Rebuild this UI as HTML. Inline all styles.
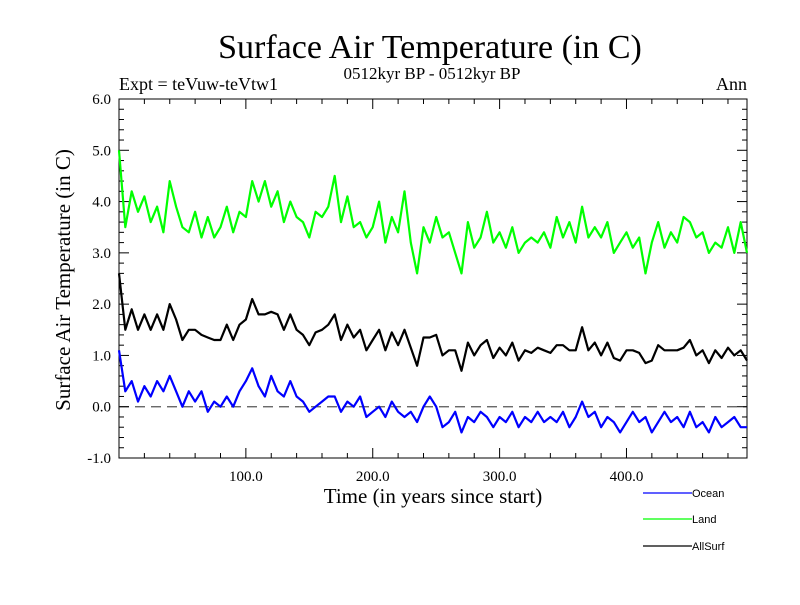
<!DOCTYPE html>
<html><head><meta charset="utf-8"><style>
body{margin:0;background:#fff}
svg text{font-family:"Liberation Serif",serif}
svg #legend text{font-family:"Liberation Sans",sans-serif}
</style></head><body>
<svg id="chart" width="800" height="600" xmlns="http://www.w3.org/2000/svg">
<rect width="800" height="600" fill="#fff"/>
<text x="430" y="58" font-size="34" text-anchor="middle">Surface Air Temperature (in C)</text>
<text x="432" y="79" font-size="17" text-anchor="middle">0512kyr BP - 0512kyr BP</text>
<text x="119" y="90" font-size="18">Expt = teVuw-teVtw1</text>
<text x="747" y="90" font-size="18" text-anchor="end">Ann</text>
<text x="433" y="503" font-size="21" text-anchor="middle">Time (in years since start)</text>
<text transform="translate(70,280) rotate(-90)" font-size="21" text-anchor="middle">Surface Air Temperature (in C)</text>
<g id="axes"></g>
<g id="series"></g>
<g id="legend"></g>
</svg>
<script>
const years=[];for(let i=0;i<100;i++)years.push(i*5);
const land=[5.0,3.5,4.2,3.8,4.1,3.6,3.9,3.4,4.4,3.9,3.5,3.4,3.8,3.3,3.7,3.3,3.5,3.9,3.4,3.8,3.7,4.4,4.0,4.4,3.9,4.2,3.6,4.0,3.7,3.6,3.3,3.8,3.7,3.9,4.5,3.6,4.1,3.5,3.6,3.3,3.5,4.0,3.2,3.7,3.4,4.2,3.2,2.6,3.5,3.2,3.7,3.3,3.4,3.0,2.6,3.6,3.1,3.3,3.8,3.2,3.4,3.1,3.5,3.0,3.2,3.3,3.2,3.4,3.1,3.7,3.3,3.6,3.2,3.9,3.3,3.5,3.3,3.6,3.0,3.2,3.4,3.1,3.3,2.6,3.2,3.6,3.1,3.4,3.2,3.7,3.6,3.3,3.4,3.0,3.2,3.1,3.5,3.0,3.6,3.0];
const ocean=[1.1,0.3,0.5,0.1,0.4,0.2,0.5,0.3,0.6,0.3,0.0,0.3,0.1,0.3,-0.1,0.1,0.0,0.2,0.0,0.3,0.5,0.75,0.4,0.2,0.6,0.3,0.2,0.5,0.2,0.1,-0.1,0.0,0.1,0.2,0.2,-0.1,0.1,0.0,0.2,-0.2,-0.1,0.0,-0.2,0.1,-0.1,-0.2,-0.1,-0.3,0.0,0.2,0.0,-0.4,-0.3,-0.1,-0.5,-0.2,-0.3,-0.1,-0.2,-0.4,-0.2,-0.3,-0.1,-0.4,-0.2,-0.3,-0.1,-0.3,-0.2,-0.3,-0.1,-0.4,-0.2,0.1,-0.2,-0.1,-0.4,-0.2,-0.3,-0.5,-0.3,-0.1,-0.3,-0.2,-0.5,-0.3,-0.1,-0.3,-0.2,-0.4,-0.1,-0.4,-0.3,-0.5,-0.2,-0.4,-0.3,-0.2,-0.4,-0.4];
const allsurf=[2.6,1.5,1.9,1.5,1.8,1.5,1.8,1.5,2.0,1.7,1.3,1.5,1.5,1.4,1.35,1.3,1.3,1.6,1.3,1.6,1.7,2.1,1.8,1.8,1.85,1.8,1.5,1.8,1.5,1.4,1.2,1.45,1.5,1.6,1.8,1.3,1.6,1.35,1.5,1.1,1.3,1.5,1.1,1.45,1.2,1.5,1.15,0.8,1.35,1.35,1.4,1.0,1.1,1.1,0.7,1.25,1.0,1.2,1.3,0.95,1.15,1.0,1.25,0.9,1.1,1.05,1.15,1.1,1.05,1.2,1.2,1.1,1.1,1.55,1.1,1.25,1.0,1.25,0.95,0.9,1.1,1.1,1.05,0.85,0.9,1.2,1.1,1.1,1.1,1.15,1.3,1.0,1.1,0.85,1.1,0.95,1.15,1.0,1.1,0.9];
const yTicks=[-1,0,1,2,3,4,5,6];
const xTicks=[100,200,300,400];
const L=119,R=747,T=99,B=458;
const xs=v=>L+v*(R-L)/495;
const ys=v=>B-(v+1)*(B-T)/7;
const NS="http://www.w3.org/2000/svg";
function mk(tag,attrs,parent){const e=document.createElementNS(NS,tag);for(const k in attrs)e.setAttribute(k,attrs[k]);parent.appendChild(e);return e;}
const ax=document.getElementById('axes');
const frame=mk('rect',{x:L,y:T,width:R-L,height:B-T,fill:'none',stroke:'#000','stroke-width':1},ax);


const zl=mk('line',{x1:L,x2:R,y1:ys(0),y2:ys(0),stroke:'#555','stroke-width':1.3,'stroke-dasharray':'10,6'},ax);


for(let v=-1;v<=6.001;v+=0.2){const y=ys(v);const maj=Math.abs(v-Math.round(v))<0.01;const w=maj?10:5;
mk('line',{x1:L,x2:L+w,y1:y,y2:y,stroke:'#000'},ax);mk('line',{x1:R-w,x2:R,y1:y,y2:y,stroke:'#000'},ax);}
for(let v=20;v<495;v+=20){const x=xs(v);const maj=v%100==0;const w=maj?10:5;
mk('line',{x1:x,x2:x,y1:B,y2:B-w,stroke:'#000'},ax);mk('line',{x1:x,x2:x,y1:T,y2:T+w,stroke:'#000'},ax);}
yTicks.forEach(v=>{const t=mk('text',{x:111,y:ys(v)+5,'font-size':15,'text-anchor':'end'},ax);t.textContent=v.toFixed(1);

});
xTicks.forEach(v=>{const t=mk('text',{x:xs(v),y:481,'font-size':15,'text-anchor':'middle'},ax);t.textContent=v.toFixed(1);

});
const sg=document.getElementById('series');
function line(vals,color,name){const d=vals.map((v,i)=>(i?'L':'M')+xs(years[i]).toFixed(1)+','+ys(v).toFixed(1)).join('');
const p=mk('path',{d:d,fill:'none',stroke:color,'stroke-width':2.2,'stroke-linejoin':'round'},sg);

}
line(land,'#00ff00','land-line');
line(allsurf,'#000000','allsurf-line');
line(ocean,'#0000ff','ocean-line');
const lg=document.getElementById('legend');
[['Ocean','#0000ff',493],['Land','#00ff00',519],['AllSurf','#000000',546]].forEach(([n,c,y])=>{
const g=mk('g',{},lg);


mk('line',{x1:643,x2:692,y1:y,y2:y,stroke:c,'stroke-width':1.3},g);
const t=mk('text',{x:692,y:y+4,'font-size':11},g);t.textContent=n;});
</script>
</body></html>
